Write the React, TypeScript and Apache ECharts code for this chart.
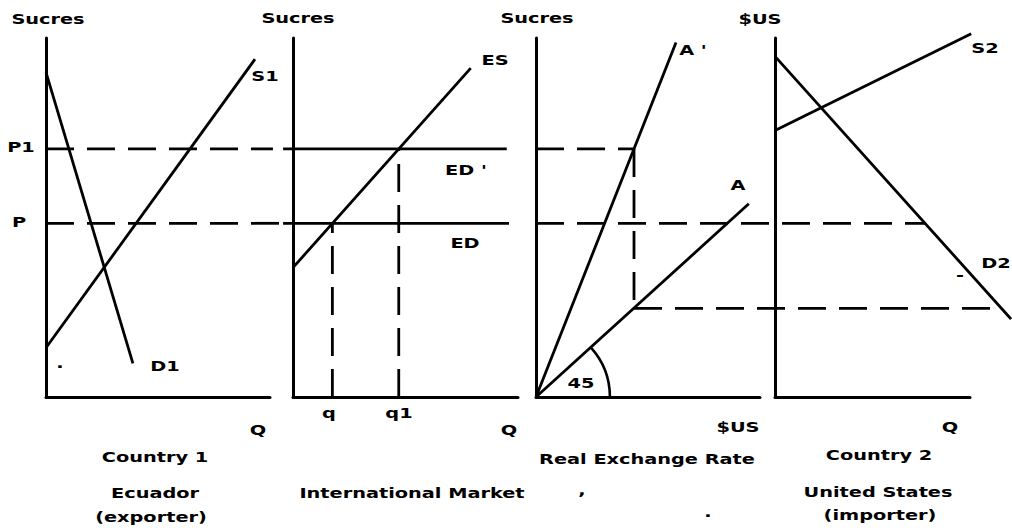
import React, { useEffect, useRef } from "react";
import * as echarts from "echarts";

// ---- data (price index 0..100 on every vertical axis, quantity 0..100 per panel) ----
const priceP1 = 70;
const priceP = 49;
const priceLow = 25;

// Panel 1: Country 1 (Ecuador, exporter)
const demandD1 = [[0, 91.6], [38.8, 9.5]];
const supplyS1 = [[0, 13.9], [93.3, 95.3]];
const p1Guide1 = [[0, priceP1], [101.3, priceP1]];
const pGuide1 = [[0, priceP], [106, priceP]];

// Panel 2: International market
const excessSupplyES = [[0, 36.5], [79, 92.8]];
const excessDemandEDp = [[-4.4, priceP1], [95, priceP1]];
const excessDemandED = [[-4.4, priceP], [96, priceP]];
const qValue = 17.5;
const q1Value = 47;
const qGuide = [[qValue, 0], [qValue, priceP]];
const q1Guide = [[q1Value, 0], [q1Value, priceP1]];

// Panel 3: Real exchange rate
const lineAprime = [[0, 0], [62.5, 100]];
const lineA = [[0, 0], [95, 54.5]];
const rateKink = 43.75;
const p1Guide3 = [[0, priceP1], [rateKink, priceP1]];
const kinkGuide3 = [[rateKink, priceP1], [rateKink, priceLow]];
const lowGuide3 = [[rateKink, priceLow], [208, priceLow]];
const pGuide3 = [[0, priceP], [174, priceP]];
const arcRadius = 33;

// Panel 4: Country 2 (United States, importer)
const supplyS2 = [[0, 75.2], [101, 102.5]];
const demandD2 = [[0, 96.1], [121.5, 22]];

// ---- text labels ----
const labels: [string, number, number][] = [
  ["Sucres", 48, 19],
  ["Sucres", 298, 18],
  ["Sucres", 537, 18],
  ["$US", 760, 19],
  ["P1", 21, 147],
  ["P", 19, 222],
  ["S1", 265, 76],
  ["D1", 165, 366],
  ["ES", 495, 60],
  ["ED '", 466, 170],
  ["ED", 465, 243],
  ["A '", 693, 50],
  ["A", 738, 185],
  ["45", 581, 383],
  ["S2", 985, 48],
  ["D2", 996, 263],
  ["Q", 258, 430],
  ["q", 329, 413],
  ["q1", 399, 413],
  ["Q", 509, 430],
  ["$US", 738, 427],
  ["Q", 950, 427],
  ["Country 1", 155, 457],
  ["Ecuador", 155, 493],
  ["(exporter)", 151, 517],
  ["International Market", 412, 493],
  ["Real Exchange Rate", 647, 459],
  ["Country 2", 879, 455],
  ["United States", 878, 492],
  ["(importer)", 880, 515],
  [",", 582, 490],
  [".", 708, 512],
  [".", 60, 363],
  ["-", 960, 275],
];

const FONT = "'DejaVu Sans', 'Liberation Sans', sans-serif";
const DASH = [28, 13];
const INK = "#000";

// visible axis frames (one per panel)
const frames = [
  { left: 46, top: 38, width: 224, height: 359 },
  { left: 293, top: 38, width: 225, height: 359 },
  { left: 536, top: 38, width: 224, height: 359 },
  { left: 775, top: 38, width: 195, height: 359 },
];
// px per quantity unit in each panel, px per price unit
const xScale = [2.24, 2.25, 2.24, 1.95];
const yScale = 3.59;
// wider hidden planes with the same scale, so lines may run past the drawn axes
const planeX: [number, number][] = [
  [0, 110],
  [-10, 100],
  [0, 212],
  [0, 122],
];
const planeYMax = 112;

const planes = planeX.map(([mn, mx], i) => ({
  left: frames[i].left + mn * xScale[i],
  width: (mx - mn) * xScale[i],
  top: 397 - planeYMax * yScale,
  height: planeYMax * yScale,
}));

function seg(data: number[][], panel: number, dashed = false, width = 2.8) {
  return {
    type: "line",
    xAxisIndex: 4 + panel,
    yAxisIndex: 4 + panel,
    data,
    symbol: "none",
    clip: false,
    silent: true,
    lineStyle: { color: INK, width, type: dashed ? DASH : "solid", cap: "butt" },
  };
}

function frameAxis(i: number) {
  return {
    type: "value",
    gridIndex: i,
    min: 0,
    max: 100,
    axisLine: { show: true, onZero: false, lineStyle: { color: INK, width: 3 } },
    axisTick: { show: false },
    axisLabel: { show: false },
    splitLine: { show: false },
  };
}
function planeAxis(i: number, mn: number, mx: number) {
  return {
    type: "value",
    gridIndex: 4 + i,
    min: mn,
    max: mx,
    show: false,
    splitLine: { show: false },
  };
}

export default function App() {
  const ref = useRef<HTMLDivElement>(null);
  useEffect(() => {
    if (!ref.current) return;
    const chart = echarts.init(ref.current, null, { renderer: "svg" });
    chart.setOption({
      animation: false,
      backgroundColor: "#fff",
      grid: [...frames, ...planes],
      xAxis: [
        ...frames.map((_, i) => frameAxis(i)),
        ...planeX.map(([mn, mx], i) => planeAxis(i, mn, mx)),
      ],
      yAxis: [
        ...frames.map((_, i) => frameAxis(i)),
        ...planeX.map((_, i) => planeAxis(i, 0, planeYMax)),
      ],
      series: [
        seg(demandD1, 0),
        seg(supplyS1, 0),
        seg(p1Guide1, 0, true),
        seg(pGuide1, 0, true),
        seg(excessSupplyES, 1),
        seg(excessDemandEDp, 1),
        seg(excessDemandED, 1),
        seg(qGuide, 1, true),
        seg(q1Guide, 1, true),
        seg(lineAprime, 2),
        seg(lineA, 2),
        seg(p1Guide3, 2, true),
        seg(kinkGuide3, 2, true),
        seg(lowGuide3, 2, true),
        seg(pGuide3, 2, true),
        seg(supplyS2, 3),
        seg(demandD2, 3),
        {
          type: "custom",
          xAxisIndex: 6,
          yAxisIndex: 6,
          data: [[0, 0]],
          silent: true,
          clip: false,
          renderItem: (_params: any, api: any) => {
            const c = api.coord([api.value(0), api.value(1)]);
            const e = api.coord(lineA[1]);
            const ang = Math.atan2(e[1] - c[1], e[0] - c[0]);
            const r = api.size([arcRadius, 0])[0];
            return {
              type: "arc",
              shape: { cx: c[0], cy: c[1], r, startAngle: ang, endAngle: 0, clockwise: true },
              style: { stroke: INK, lineWidth: 2.6, fill: null },
            };
          },
        },
      ],
      graphic: labels.map(([t, x, y]) => ({
        type: "text",
        x,
        y,
        scaleX: 1.38,
        silent: true,
        style: {
          text: t,
          fill: INK,
          font: `bold 14px ${FONT}`,
          align: "center",
          verticalAlign: "middle",
        },
      })),
    });
    return () => chart.dispose();
  }, []);
  return (
    <div
      ref={ref}
      style={{ position: "absolute", left: 0, top: 0, width: 1012, height: 528, background: "#fff" }}
    />
  );
}
